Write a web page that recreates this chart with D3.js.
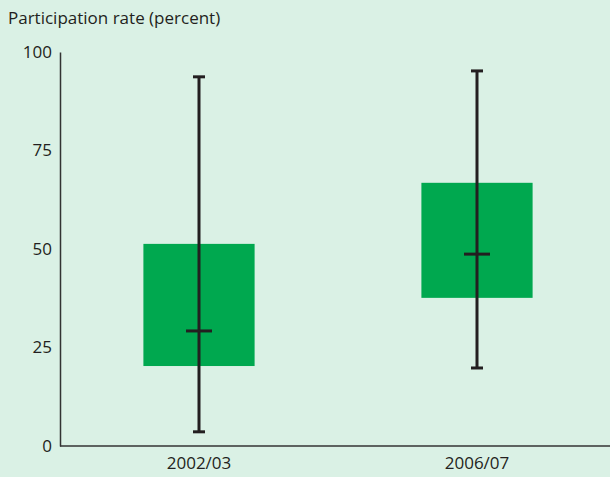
<!DOCTYPE html>
<html>
<head>
<meta charset="utf-8">
<script src="https://cdn.jsdelivr.net/npm/d3@7"></script>
<style>
  body { margin: 0; background: #daf1e5; }
  svg { display: block; font-family: "Open Sans", "Noto Sans", sans-serif; }
</style>
</head>
<body>
<div id="chart"></div>
<script>
const periods = ["2002/03", "2006/07"];
const boxLow = [20.3, 37.6];
const boxHigh = [51.3, 66.8];
const medians = [29.2, 48.7];
const whiskerLow = [3.6, 19.8];
const whiskerHigh = [93.7, 95.2];
const yTicks = [0, 25, 50, 75, 100];

const width = 610, height = 477;
const margin = {top: 52, right: 0, bottom: 31, left: 60};

const svg = d3.select("#chart").append("svg")
    .attr("width", width)
    .attr("height", height);

svg.append("rect")
    .attr("width", width).attr("height", height)
    .attr("fill", "#daf1e5");

const x = d3.scaleBand()
    .domain(periods)
    .range([margin.left, width + 6])
    .paddingInner(0.6)
    .paddingOuter(0.3);

const y = d3.scaleLinear()
    .domain([0, 100])
    .range([height - margin.bottom, margin.top]);

const data = periods.map((p, i) => ({
    period: p, lo: boxLow[i], hi: boxHigh[i], med: medians[i],
    wlo: whiskerLow[i], whi: whiskerHigh[i]
}));

// boxes
svg.selectAll("rect.box").data(data).enter().append("rect")
    .attr("class", "box")
    .attr("x", d => x(d.period))
    .attr("width", x.bandwidth())
    .attr("y", d => y(d.hi))
    .attr("height", d => y(d.lo) - y(d.hi))
    .attr("fill", "#00a84f");

const ink = "#231f20";
const g = svg.selectAll("g.whisk").data(data).enter().append("g").attr("class", "whisk");
const cx = d => x(d.period) + x.bandwidth() / 2;

g.append("line")
    .attr("x1", cx).attr("x2", cx)
    .attr("y1", d => y(d.wlo)).attr("y2", d => y(d.whi))
    .attr("stroke", ink).attr("stroke-width", 3);
g.append("line")
    .attr("x1", d => cx(d) - 6).attr("x2", d => cx(d) + 6)
    .attr("y1", d => y(d.whi)).attr("y2", d => y(d.whi))
    .attr("stroke", ink).attr("stroke-width", 3);
g.append("line")
    .attr("x1", d => cx(d) - 6).attr("x2", d => cx(d) + 6)
    .attr("y1", d => y(d.wlo)).attr("y2", d => y(d.wlo))
    .attr("stroke", ink).attr("stroke-width", 3);
g.append("line")
    .attr("x1", d => cx(d) - 13).attr("x2", d => cx(d) + 13)
    .attr("y1", d => y(d.med)).attr("y2", d => y(d.med))
    .attr("stroke", ink).attr("stroke-width", 3);

// axes
const yAxis = svg.append("g")
    .attr("transform", `translate(${margin.left},0)`)
    .call(d3.axisLeft(y).tickValues(yTicks).tickSize(0).tickPadding(8));
yAxis.select(".domain").attr("stroke", "#333").attr("stroke-width", 1.5);
yAxis.selectAll("text").attr("font-size", 17).attr("fill", "#231f20")
    .attr("font-family", "'Open Sans', sans-serif");

const xAxis = svg.append("g")
    .attr("transform", `translate(0,${y(0)})`)
    .call(d3.axisBottom(x).tickSize(0).tickPadding(11));
xAxis.select(".domain").attr("d", `M${margin.left},0H${width}`)
    .attr("stroke", "#333").attr("stroke-width", 1.5);
xAxis.selectAll("text").attr("font-size", 17).attr("fill", "#231f20")
    .attr("font-family", "'Open Sans', sans-serif");

svg.append("text")
    .attr("x", 8).attr("y", 24)
    .attr("font-size", 17)
    .attr("fill", "#231f20")
    .text("Participation rate (percent)");
</script>
</body>
</html>
